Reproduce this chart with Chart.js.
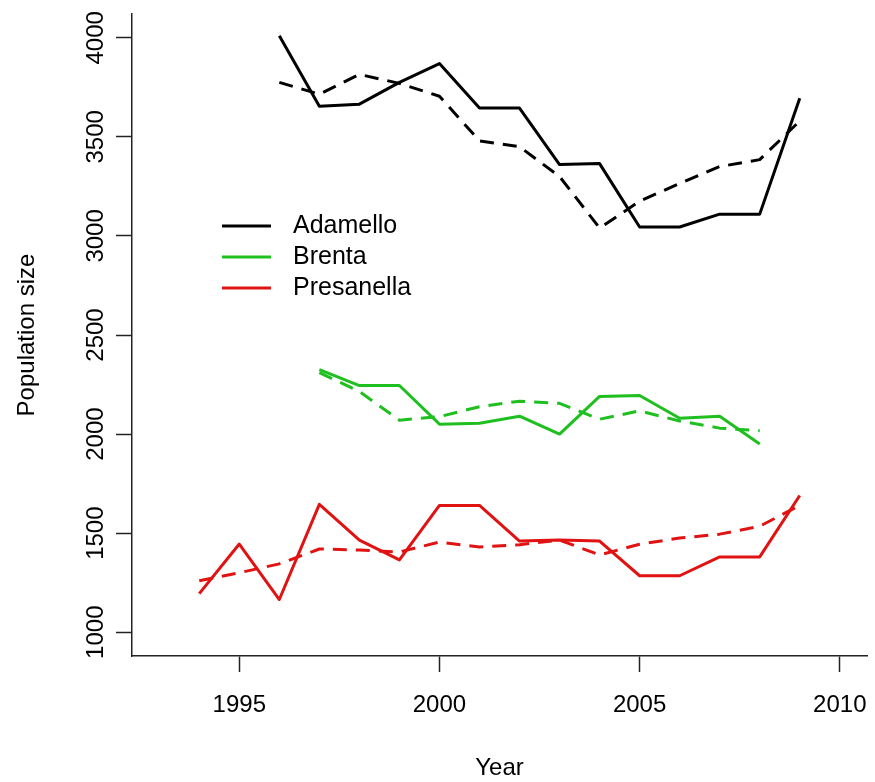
<!DOCTYPE html>
<html>
<head>
<meta charset="utf-8">
<script src="https://cdn.jsdelivr.net/npm/chart.js@4"></script>
<style>
  body { margin: 0; background: #fff; }
  canvas { display: block; }
</style>
</head>
<body>
<canvas id="popChart" width="875" height="782"></canvas>
<script>
// observed (solid) and fitted (dashed) population sizes
const years = [1994, 1995, 1996, 1997, 1998, 1999, 2000, 2001, 2002, 2003, 2004, 2005, 2006, 2007, 2008, 2009];

const adamelloYears = [1996, 1997, 1998, 1999, 2000, 2001, 2002, 2003, 2004, 2005, 2006, 2007, 2008, 2009];
const adamelloObs = [4010, 3655, 3665, 3775, 3870, 3645, 3645, 3360, 3365, 3045, 3045, 3110, 3110, 3695];
const adamelloFit = [3775, 3715, 3815, 3770, 3705, 3480, 3450, 3300, 3040, 3175, 3265, 3350, 3385, 3580];

const brentaYears = [1997, 1998, 1999, 2000, 2001, 2002, 2003, 2004, 2005, 2006, 2007, 2008];
const brentaObs = [2325, 2245, 2245, 2050, 2055, 2090, 2000, 2190, 2195, 2080, 2090, 1950];
const brentaFit = [2310, 2215, 2070, 2088, 2138, 2166, 2155, 2075, 2117, 2066, 2030, 2017];

const presanellaYears = years;
const presanellaObs = [1195, 1445, 1165, 1645, 1465, 1365, 1640, 1640, 1460, 1465, 1460, 1285, 1285, 1380, 1380, 1690];
const presanellaFit = [1260, 1300, 1345, 1420, 1415, 1405, 1455, 1430, 1442, 1465, 1390, 1444, 1475, 1495, 1535, 1640];

const xTicks = [1995, 2000, 2005, 2010];
const yTicks = [1000, 1500, 2000, 2500, 3000, 3500, 4000];

const seriesNames = ['Adamello', 'Brenta', 'Presanella'];
const seriesColors = ['#000000', '#1fbf1f', '#e01212'];

const FONT = 'Liberation Sans, Arial, Helvetica, sans-serif';

function pts(xs, ys) {
  return xs.map((x, i) => ({ x: x, y: ys[i] }));
}

function line(label, xs, ys, color, dashed) {
  return {
    label: label,
    data: pts(xs, ys),
    borderColor: color,
    backgroundColor: color,
    borderWidth: 3,
    borderDash: dashed ? [14, 9] : [],
    borderCapStyle: 'butt',
    borderJoinStyle: 'round',
    pointRadius: 0,
    tension: 0,
    fill: false,
  };
}

// legend drawn inside the plot, like R's legend()
const insideLegend = {
  id: 'insideLegend',
  afterDatasetsDraw(chart) {
    const ctx = chart.ctx;
    ctx.save();
    ctx.font = '25px ' + FONT;
    ctx.textBaseline = 'middle';
    ctx.textAlign = 'left';
    seriesNames.forEach((name, i) => {
      const y = 226 + i * 31;
      ctx.strokeStyle = seriesColors[i];
      ctx.lineWidth = 3;
      ctx.beginPath();
      ctx.moveTo(222, y);
      ctx.lineTo(271, y);
      ctx.stroke();
      ctx.fillStyle = '#000';
      ctx.fillText(name, 293, y);
    });
    ctx.restore();
  }
};

const ctx = document.getElementById('popChart').getContext('2d');
new Chart(ctx, {
  type: 'line',
  data: {
    datasets: [
      line('Adamello', adamelloYears, adamelloObs, seriesColors[0], false),
      line('Adamello fit', adamelloYears, adamelloFit, seriesColors[0], true),
      line('Brenta', brentaYears, brentaObs, seriesColors[1], false),
      line('Brenta fit', brentaYears, brentaFit, seriesColors[1], true),
      line('Presanella', presanellaYears, presanellaObs, seriesColors[2], false),
      line('Presanella fit', presanellaYears, presanellaFit, seriesColors[2], true),
    ],
  },
  options: {
    responsive: false,
    animation: false,
    layout: { padding: { top: 14, right: 8, left: 0, bottom: 0 } },
    plugins: {
      legend: { display: false },
      tooltip: { enabled: false },
    },
    scales: {
      x: {
        type: 'linear',
        min: 1992.32,
        max: 2010.68,
        afterBuildTicks: (scale) => { scale.ticks = xTicks.map(v => ({ value: v })); },
        afterFit: (scale) => {
          scale.height = 126;
          scale.paddingLeft = 0;
          scale.paddingRight = 0;
        },
        ticks: {
          color: '#000',
          font: { family: FONT, size: 24 },
          padding: 19,
          maxRotation: 0,
          callback: (v) => String(v),
        },
        grid: { drawOnChartArea: false, drawTicks: true, tickLength: 16, tickColor: '#222', tickWidth: 1.5 },
        border: { display: true, color: '#222', width: 1.5 },
        title: {
          display: true,
          text: 'Year',
          color: '#000',
          font: { family: FONT, size: 24 },
          padding: { top: 0, bottom: -1 },
        },
      },
      y: {
        type: 'linear',
        min: 880,
        max: 4120,
        afterBuildTicks: (scale) => { scale.ticks = yTicks.map(v => ({ value: v })); },
        afterFit: (scale) => { scale.width = 132; },
        ticks: {
          color: '#000',
          font: { family: FONT, size: 24 },
          minRotation: 90,
          maxRotation: 90,
          crossAlign: 'center',
          padding: -7,
          callback: (v) => String(v),
        },
        grid: { drawOnChartArea: false, drawTicks: true, tickLength: 16, tickColor: '#222', tickWidth: 1.5 },
        border: { display: true, color: '#222', width: 1.5 },
        title: {
          display: true,
          text: 'Population size',
          color: '#000',
          font: { family: FONT, size: 24 },
          padding: { top: 13, bottom: 0 },
        },
      },
    },
  },
  plugins: [insideLegend],
});
</script>
</body>
</html>
